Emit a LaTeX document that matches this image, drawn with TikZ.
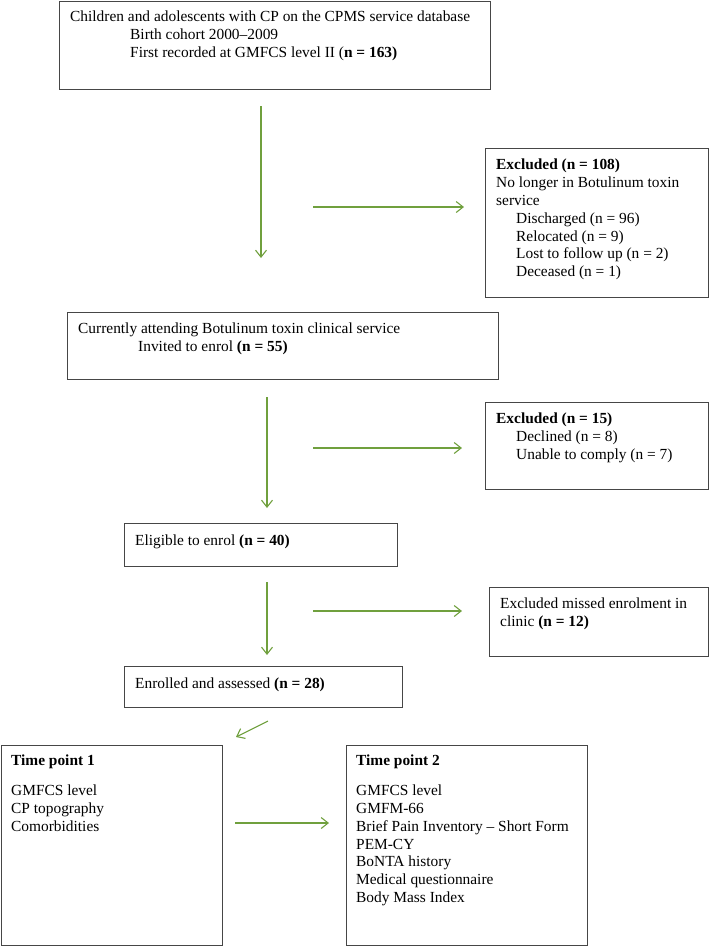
\documentclass[tikz,border=0pt]{standalone}
\usepackage{fontspec}
\setmainfont{Liberation Serif}
\usetikzlibrary{arrows.meta}
\definecolor{flowgreen}{RGB}{112,160,62}
\definecolor{boxgray}{RGB}{70,70,70}

\begin{document}
\begin{tikzpicture}[x=1pt,y=-1pt]
		\tikzstyle{box}=[draw=boxgray, line width=1.1pt, inner sep=0pt, anchor=north west]
		\tikzstyle{txt}=[inner sep=0pt, anchor=north west, align=left, font=\fontsize{15.4}{17.8}\selectfont]
		\tikzstyle{flow}=[flowgreen, line width=1.1pt, -{Straight Barb[length=7pt,width=11pt]}]
		\useasboundingbox (0,0) rectangle (709,946);
		% boxes
		\node [box, minimum width=431pt, minimum height=88pt] (cohort) at (59,0.7) {};
		\node [box, minimum width=223pt, minimum height=149pt] (exclA) at (485,148) {};
		\node [box, minimum width=431pt, minimum height=67pt] (invited) at (67,312) {};
		\node [box, minimum width=223pt, minimum height=87pt] (exclB) at (485,402) {};
		\node [box, minimum width=273pt, minimum height=43pt] (eligible) at (124,523) {};
		\node [box, minimum width=219pt, minimum height=69pt] (exclC) at (489,587) {};
		\node [box, minimum width=278pt, minimum height=41pt] (enrolled) at (124,666) {};
		\node [box, minimum width=221pt, minimum height=200pt] (tpA) at (0.7,744.5) {};
		\node [box, minimum width=241pt, minimum height=200pt] (tpB) at (346,744.5) {};
		% texts
		\node [txt] (cohorttxt) at (70,11) {Children and adolescents with CP on the CPMS service database\\
			\hspace{60pt}Birth cohort 2000--2009\\
			\hspace{60pt}First recorded at GMFCS level II (\textbf{n = 163)}};
		\node [txt] (exclAtxt) at (496,159) {\textbf{Excluded (n = 108)}\\
			No longer in Botulinum toxin\\
			service\\
			\hspace{20pt}Discharged (n = 96)\\
			\hspace{20pt}Relocated (n = 9)\\
			\hspace{20pt}Lost to follow up (n = 2)\\
			\hspace{20pt}Deceased (n = 1)};
		\node [txt] (invitedtxt) at (78,323) {Currently attending Botulinum toxin clinical service\\
			\hspace{60pt}Invited to enrol \textbf{(n = 55)}};
		\node [txt] (exclBtxt) at (496,413) {\textbf{Excluded (n = 15)}\\
			\hspace{20pt}Declined (n = 8)\\
			\hspace{20pt}Unable to comply (n = 7)};
		\node [txt] (eligibletxt) at (135,535) {Eligible to enrol \textbf{(n = 40)}};
		\node [txt] (exclCtxt) at (500,598) {Excluded missed enrolment in\\
			clinic \textbf{(n = 12)}};
		\node [txt] (enrolledtxt) at (135,678) {Enrolled and assessed \textbf{(n = 28)}};
		\node [txt] (tpAtxt) at (11,755) {\textbf{Time point 1}\\[12pt]
			GMFCS level\\
			CP topography\\
			Comorbidities};
		\node [txt] (tpBtxt) at (356,755) {\textbf{Time point 2}\\[12pt]
			GMFCS level\\
			GMFM-66\\
			Brief Pain Inventory -- Short Form\\
			PEM-CY\\
			BoNTA history\\
			Medical questionnaire\\
			Body Mass Index};
		% arrow ends
		\coordinate (dA) at (261,106);
		\coordinate (dA') at (261,258);
		\coordinate (rA) at (313,207);
		\coordinate (rA') at (464,207);
		\coordinate (dB) at (267,397);
		\coordinate (dB') at (267,508);
		\coordinate (rB) at (313,448);
		\coordinate (rB') at (462,448);
		\coordinate (dC) at (267,582);
		\coordinate (dC') at (267,655);
		\coordinate (rC) at (313,611);
		\coordinate (rC') at (462,611);
		\coordinate (sw) at (268,721);
		\coordinate (sw') at (236,737);
		\coordinate (tp) at (235,823);
		\coordinate (tp') at (329,823);
		% arrows
		\draw [flow] (dA) -- (dA');
		\draw [flow] (rA) -- (rA');
		\draw [flow] (dB) -- (dB');
		\draw [flow] (rB) -- (rB');
		\draw [flow] (dC) -- (dC');
		\draw [flow] (rC) -- (rC');
		\draw [flow] (sw) -- (sw');
		\draw [flow] (tp) -- (tp');
	\end{tikzpicture}
\end{document}
